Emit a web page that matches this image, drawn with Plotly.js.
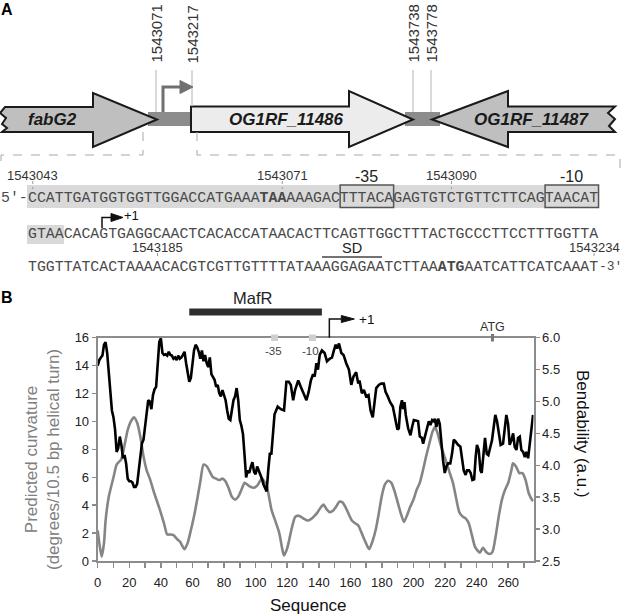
<!DOCTYPE html>
<html><head><meta charset="utf-8">
<script src="https://cdn.plot.ly/plotly-3.0.1.min.js"></script>
<style>html,body{margin:0;padding:0;background:#fff}#chart{width:622px;height:616px}</style>
</head><body><div id="chart"></div>
<script>
// ---------------- Panel B data ----------------
const curvX = [0,1,2.5,4,5,7,10,12,15,17,19,21,23,25,27,29,31,33,36,39,42,44,46,48,50,52,55,57,59,61,63,65,67,69,71,73,75,77,79,81,83,85,87,89,91,93,95,97,99,101,104,107,110,113,115,117,118,120,123,125,127,129,131,133,135,137,139,141,143,145,147,149,151,153,155,157,159,161,163,165,167,169,171,172,174,176,178,180,182,184,186,188,190,192,194,196,198,200,202,204,206,208,210,212,213.5,215,217,219,221,223,225,227,229,231,233,235,237,239,242,244,246,248,250,252,254,256,258,260,262,263,265,267,269,271,273,275,276];
const curvY = [2.2,1.3,0.3,1.3,2.9,4.6,6.0,6.9,7.3,8.3,9.4,10.0,10.3,9.9,8.9,7.5,6.5,5.9,4.8,3.8,2.7,1.9,1.9,1.85,1.6,1.4,0.85,1.3,2.2,3.2,4.4,5.7,6.9,6.8,6.4,6.0,5.9,5.8,5.9,5.7,5.2,4.6,4.4,4.6,5.1,5.6,5.45,5.3,5.25,5.4,5.9,5.4,3.7,2.7,2.0,0.8,0.4,0.9,2.4,3.15,3.25,3.15,3.0,2.9,3.0,3.2,3.45,3.8,4.05,3.7,3.5,3.6,3.9,4.25,4.2,3.85,3.35,2.9,2.7,2.55,2.05,1.5,1.0,0.85,1.4,2.2,3.4,4.7,5.5,5.75,5.6,5.0,4.2,3.4,2.8,3.3,3.9,4.4,5.1,5.6,6.5,7.5,8.4,9.25,9.6,9.25,8.4,7.7,7.0,6.3,5.6,4.5,3.5,3.2,3.05,2.7,1.85,1.0,0.6,0.95,0.65,0.5,0.65,1.75,3.2,4.4,5.1,5.6,6.5,7.0,6.75,6.3,6.3,5.8,4.85,4.4,4.3];

const bendX = [0,1,2,3,4,5,6,7,8,9,10,11,12,13,14,15,16,17,18,19,20,21,22,23,24,25,26,27,28,29,30,31,32,33,34,35,36,37,38,39,40,41,42,43,44,45,46,47,48,49,50,51,52,53,54,55,56,57,58,59,60,61,62,63,64,65,66,67,68,69,70,71,72,73,74,75,76,77,78,79,80,81,82,83,84,85,86,87,88,89,90,91,92,93,94,95,96,97,98,99,100,101,102,103,104,105,106,107,108,109,110,111,112,113,114,116,118,119.5,121,122.3,123.8,125,127,128.6,130,131,132.2,133.6,135,136.4,137.4,138.5,139.5,140.6,142,143.7,145.2,146.9,148.4,149.6,150.7,151.7,152.8,154.3,155.7,157.4,159.1,160.6,162,163.7,165,165.8,167.3,168.6,170,171.5,172.8,174.2,176.4,178,179.5,181.2,182.3,183.7,185.2,186.9,188.6,189.8,190.7,191.7,192.7,193.4,194.3,195.1,196.6,198.1,199.1,200.2,201.9,202.9,204,205.3,206.1,207.2,208.6,209.7,210.7,211.8,212.9,213.5,214.5,215.6,216.6,217.7,218.7,219.8,220.8,221.9,223.3,224.4,225.5,226.7,228.2,229.7,230.7,231.8,233,233.9,235.2,236.2,237.3,238.4,239.4,240.2,241.3,242.4,243.2,244.3,245.3,246.4,247.4,248.7,249.7,250.8,251.8,252.9,253.9,255.2,256.7,257.8,258.8,259.9,260.9,262,263.1,264.1,265.2,266.2,267.3,268.3,269.4,270.5,271.5,272.6,273.6,274.7,275.7];
const bendY = [5.56,5.65,5.69,5.72,5.89,5.93,5.76,5.43,5.08,4.86,4.75,4.56,4.21,4.27,4.45,4.32,4.11,4.16,4.03,3.79,3.75,3.75,3.73,3.66,3.66,3.71,3.92,4.18,4.34,4.40,4.60,4.75,5.02,5.00,4.88,5.10,5.19,5.23,5.60,5.93,5.99,5.76,5.73,5.74,5.72,5.78,5.73,5.72,5.67,5.69,5.65,5.72,5.67,5.69,5.73,5.78,5.60,5.43,5.31,5.37,5.60,5.80,5.89,5.85,5.78,5.67,5.80,5.63,5.73,5.60,5.54,5.69,5.43,5.37,5.34,5.23,5.26,5.13,5.08,5.18,5.10,5.02,4.86,4.73,4.71,4.84,5.02,5.08,5.21,5.02,4.71,4.62,4.49,4.16,3.81,3.92,3.88,3.98,4.05,3.90,3.86,3.98,3.92,3.88,3.79,3.70,3.64,3.59,3.92,4.18,4.18,4.56,4.80,4.86,4.92,4.88,4.86,5.31,5.31,5.26,5.02,5.18,5.33,5.23,5.15,5.08,5.02,5.15,5.33,5.43,5.39,5.60,5.50,5.73,5.80,5.76,5.63,5.67,5.69,5.80,5.89,5.83,5.91,5.76,5.73,5.60,5.50,5.26,5.39,5.46,5.28,5.33,5.13,5.18,5.08,5.10,4.86,4.75,5.21,5.26,5.28,5.28,5.15,5.08,4.99,4.92,4.69,4.56,4.58,4.92,5.02,4.88,4.99,4.79,4.58,4.47,4.60,4.71,4.70,4.69,4.45,4.43,4.34,4.45,4.60,4.69,4.63,4.71,4.69,4.73,4.60,4.73,4.65,4.32,4.08,3.88,3.98,4.03,4.03,4.18,4.40,4.37,4.32,4.29,4.14,3.92,3.85,3.92,3.92,3.88,3.77,3.78,4.14,4.32,4.24,3.92,3.88,4.21,4.43,4.18,4.16,4.29,4.39,4.60,4.79,4.69,4.50,4.32,4.34,4.63,4.79,4.65,4.32,4.39,4.50,4.29,4.24,4.43,4.45,4.24,4.21,4.13,4.21,4.11,4.34,4.60,4.79];

const mafR = [58, 142];          // MafR binding region (sequence positions)
const boxLabels = ['-35', '-10'];
const boxPos = [112, 136];
const atgPos = 250;
const tssPos = 146.7;

// ---------------- Panel A text ----------------
const geneNames = ['fabG2', 'OG1RF_11486', 'OG1RF_11487'];
const genomeLabels = ['1543071', '1543217', '1543738', '1543778'];
const seqLines = [
  'CCATTGATGGTGGTTGGACCATGAAATAAAAAGACTTTACAGAGTGTCTGTTCTTCAGTAACAT',
  'GTAACACAGTGAGGCAACTCACACCATAACACTTCAGTTGGCTTTACTGCCCTTCCTTTGGTTA',
  'TGGTTATCACTAAAACACGTCGTTGTTTTATAAAGGAGAATCTTAAATGAATCATTCATCAAAT'
];
const seqPosLabels = ['1543043', '1543071', '1543090', '1543185', '1543234'];
const seqPosLine = [0, 0, 0, 2, 2];
const seqPosIdx = [0, 28, 47, 14, 63];

// ---------------- helpers ----------------
const W = 622, H = 616;
const X = p => p / W;
const Y = p => 1 - p / H;
const path = (pts, close) => pts.map((p, i) => (i ? 'L' : 'M') + X(p[0]).toFixed(5) + ',' + Y(p[1]).toFixed(5)).join(' ') + (close ? ' Z' : '');
const SX = 28.3, CW = 8.91;
const cx = i => SX + i * CW;
const lineY = [198, 234.5, 266.5];
const SANS = 'Liberation Sans, Arial, sans-serif';
const MONO = 'Liberation Mono, Courier New, monospace';

const shapes = [];
const ann = [];
function A(o) { ann.push(Object.assign({xref: 'paper', yref: 'paper', showarrow: false, borderpad: 0, borderwidth: 0, xanchor: 'center', yanchor: 'middle'}, o)); }
function S(o) { shapes.push(Object.assign({xref: 'paper', yref: 'paper', layer: 'above'}, o)); }

// Panel A label
A({x: X(1), y: Y(9), xanchor: 'left', text: '<b>A</b>', font: {family: SANS, size: 16, color: '#000'}});

// connector bars
S({type: 'rect', x0: X(148), x1: X(193), y0: Y(112), y1: Y(126), fillcolor: '#8c8c8c', line: {width: 0}});
S({type: 'rect', x0: X(405), x1: X(440), y0: Y(112), y1: Y(126), fillcolor: '#8c8c8c', line: {width: 0}});
// genes
S({type: 'path', path: path([[5,107],[93,107],[93,93],[157,119.5],[93,147],[93,132],[2,132],[7,128],[2,124],[6,118],[0,113]], true), fillcolor: '#bfbfbf', line: {color: '#1a1a1a', width: 2}});
S({type: 'path', path: path([[191,106.5],[349,106.5],[349,91],[413,119.5],[349,147],[349,132],[191,132]], true), fillcolor: '#ececec', line: {color: '#1a1a1a', width: 2}});
S({type: 'path', path: path([[432,119.5],[508,91],[508,106.5],[615,106.5],[608,113],[615,119],[609,126],[615,132],[508,132],[508,147]], true), fillcolor: '#bfbfbf', line: {color: '#1a1a1a', width: 2}});
const geneCX = [52, 286, 532];
geneNames.forEach((g, i) => A({x: X(geneCX[i]), y: Y(120), text: '<b><i>' + g + '</i></b>', font: {family: SANS, size: 17, color: '#1a1a1a'}}));

// genome coordinate ticks
const gX = [156, 192, 413, 431];
const gBot = [112, 106, 112, 112];
genomeLabels.forEach((t, i) => {
  S({type: 'line', x0: X(gX[i]), x1: X(gX[i]), y0: Y(70), y1: Y(gBot[i]), line: {color: '#cccccc', width: 1.5}});
  A({x: X(gX[i] - 0.5), y: Y(34), text: t, textangle: -90, font: {family: SANS, size: 15, color: '#333'}});
});
// promoter arrow
S({type: 'path', path: path([[163,112],[163,87],[181,87]]), line: {color: '#707070', width: 3}});
S({type: 'path', path: path([[180,80.5],[193,87],[180,93.5]], true), fillcolor: '#707070', line: {color: '#707070', width: 1}});

// dashed callout
S({type: 'path', path: path([[143,132],[143,155],[1,155],[1,168]]), line: {color: '#a8a8a8', width: 1, dash: 'dash'}});
S({type: 'path', path: path([[197,132],[197,155],[620,155],[620,175]]), line: {color: '#a8a8a8', width: 1, dash: 'dash'}});

// sequence highlights & boxes
S({type: 'rect', layer: 'below', x0: X(27), x1: X(cx(64)), y0: Y(185), y1: Y(208), fillcolor: '#d9d9d9', line: {width: 0}});
S({type: 'rect', layer: 'below', x0: X(27), x1: X(cx(4)), y0: Y(225), y1: Y(244), fillcolor: '#d9d9d9', line: {width: 0}});
S({type: 'rect', x0: X(cx(35)), x1: X(cx(41)), y0: Y(185), y1: Y(207.5), line: {color: '#555', width: 1.5}});
S({type: 'rect', x0: X(cx(58)), x1: X(cx(64)), y0: Y(185), y1: Y(207.5), line: {color: '#555', width: 1.5}});
A({x: X((cx(35) + cx(41)) / 2), y: Y(176), text: '-35', font: {family: SANS, size: 16, color: '#222'}});
A({x: X((cx(58) + cx(64)) / 2), y: Y(176), text: '-10', font: {family: SANS, size: 16, color: '#222'}});

// sequence lines
function seqText(s, boldFrom) {
  if (boldFrom == null) return s;
  return s.slice(0, boldFrom) + '<b>' + s.slice(boldFrom, boldFrom + 3) + '</b>' + s.slice(boldFrom + 3);
}
const seqFont = {family: MONO, size: 14.85, color: '#4a4a4a'};
A({x: X(SX), y: Y(lineY[0]), xanchor: 'right', text: '5′-', font: seqFont});
A({x: X(SX), y: Y(lineY[0]), xanchor: 'left', text: seqText(seqLines[0], 26), font: seqFont});
A({x: X(SX), y: Y(lineY[1]), xanchor: 'left', text: seqText(seqLines[1]), font: seqFont});
A({x: X(SX), y: Y(lineY[2]), xanchor: 'left', text: seqText(seqLines[2], 46), font: seqFont});
A({x: X(cx(64)), y: Y(lineY[2]), xanchor: 'left', text: '-3′', font: {family: MONO, size: 13, color: '#4a4a4a'}});

// sequence coordinate labels
seqPosLabels.forEach((t, i) => {
  const x = cx(seqPosIdx[i] + 0.5);
  const ly = lineY[seqPosLine[i]];
  const off = seqPosLine[i] === 0 ? 22.5 : 19;
  S({type: 'line', x0: X(x), x1: X(x), y0: Y(ly - off + 5.5), y1: Y(ly - 9), line: {color: '#999', width: 1, dash: 'dot'}});
  A({x: X(x), y: Y(ly - off), text: t, font: {family: SANS, size: 13, color: '#333'}});
});
// SD
A({x: X(352), y: Y(248), text: 'SD', font: {family: SANS, size: 14.5, color: '#222'}});
S({type: 'line', x0: X(322), x1: X(382), y0: Y(257), y1: Y(257), line: {color: '#444', width: 1.5}});
// +1 in sequence
S({type: 'path', path: path([[102,228],[102,217.5],[112,217.5]]), line: {color: '#111', width: 1.5}});
S({type: 'path', path: path([[111,213.5],[123,217.5],[111,221.5]], true), fillcolor: '#111', line: {color: '#111', width: 1}});
A({x: X(124), y: Y(215), xanchor: 'left', text: '+1', font: {family: SANS, size: 13, color: '#111'}});

// ---------------- Panel B annotations ----------------
A({x: X(1), y: Y(297), xanchor: 'left', text: '<b>B</b>', font: {family: SANS, size: 16, color: '#000'}});
S({type: 'rect', xref: 'x', x0: mafR[0], x1: mafR[1], y0: Y(315.5), y1: Y(308.5), fillcolor: '#2e2e2e', line: {width: 0}});
A({xref: 'x', x: (mafR[0] + mafR[1]) / 2 - 1.5, y: Y(298), text: 'MafR', font: {family: SANS, size: 16.5, color: '#222'}});
boxPos.forEach((p, i) => {
  S({type: 'rect', xref: 'x', xsizemode: 'pixel', xanchor: p, x0: -3.5, x1: 3.5, y0: Y(341), y1: Y(334.5), fillcolor: '#cfcfcf', line: {width: 0}});
  A({xref: 'x', x: p, xshift: -1.5, y: Y(351), text: boxLabels[i], font: {family: SANS, size: 11.5, color: '#444'}});
});
S({type: 'rect', xref: 'x', xsizemode: 'pixel', xanchor: atgPos, x0: -1.5, x1: 1.5, y0: Y(341.5), y1: Y(334), fillcolor: '#777', line: {width: 0}});
A({xref: 'x', x: atgPos, y: Y(327), text: 'ATG', font: {family: SANS, size: 12.5, color: '#333'}});
S({type: 'path', xref: 'x', xsizemode: 'pixel', xanchor: tssPos, path: 'M0,' + Y(337.7) + ' L0,' + Y(319) + ' L12,' + Y(319), line: {color: '#111', width: 1.5}});
S({type: 'path', xref: 'x', xsizemode: 'pixel', xanchor: tssPos, path: 'M12,' + Y(315.5) + ' L25,' + Y(319) + ' L12,' + Y(322.5) + ' Z', fillcolor: '#111', line: {color: '#111', width: 1}});
A({xref: 'x', x: tssPos, xshift: 30, y: Y(319), xanchor: 'left', text: '+1', font: {family: SANS, size: 13.5, color: '#111'}});

// axis titles
A({x: X(42), y: Y(460), textangle: -90, text: 'Predicted curvature<br>(degrees/10.5 bp helical turn)', font: {family: SANS, size: 17, color: '#808080'}});
A({x: X(583), y: Y(434), textangle: 90, text: 'Bendability (a.u.)', font: {family: SANS, size: 17, color: '#111'}});
A({x: X(308), y: Y(605), text: 'Sequence', font: {family: SANS, size: 17, color: '#111'}});

const axGray = '#8c8c8c';
const tickFont = {family: SANS, size: 13, color: '#222'};
const layout = {
  width: W, height: H,
  margin: {l: 0, r: 0, t: 0, b: 0},
  paper_bgcolor: '#fff', plot_bgcolor: 'rgba(0,0,0,0)',
  showlegend: false,
  xaxis: {domain: [X(97.7), X(533.5)], range: [0, 276], tickmode: 'linear', tick0: 0, dtick: 20,
    ticks: 'outside', ticklen: 5, tickwidth: 1.5, tickcolor: axGray,
    minor: {dtick: 10, ticks: 'outside', ticklen: 5, tickwidth: 1.5, tickcolor: axGray},
    showline: true, linecolor: axGray, linewidth: 2, mirror: true,
    showgrid: false, zeroline: false, tickfont: tickFont, ticklabelstandoff: 3},
  yaxis: {domain: [Y(561), Y(337.7)], range: [0, 16], tickmode: 'linear', tick0: 0, dtick: 2,
    ticks: 'outside', ticklen: 4, tickwidth: 1.5, tickcolor: axGray,
    showline: true, linecolor: axGray, linewidth: 2, showgrid: false, zeroline: false, tickfont: tickFont},
  yaxis2: {overlaying: 'y', side: 'right', anchor: 'x', range: [2.5, 6.0], tickmode: 'linear', tick0: 2.5, dtick: 0.5, tickformat: '.1f',
    ticks: 'outside', ticklen: 4, tickwidth: 1.5, tickcolor: axGray,
    showline: true, linecolor: axGray, linewidth: 2, showgrid: false, zeroline: false, tickfont: tickFont},
  shapes: shapes,
  annotations: ann
};

const traces = [
  {type: 'scatter', mode: 'lines', x: curvX, y: curvY, name: 'Predicted curvature', line: {color: '#858585', width: 2.6, shape: 'spline', smoothing: 0.6}, yaxis: 'y'},
  {type: 'scatter', mode: 'lines', x: bendX, y: bendY, name: 'Bendability', line: {color: '#000', width: 2.6}, yaxis: 'y2'}
];
Plotly.newPlot('chart', traces, layout, {displayModeBar: false, staticPlot: true});
</script></body></html>
